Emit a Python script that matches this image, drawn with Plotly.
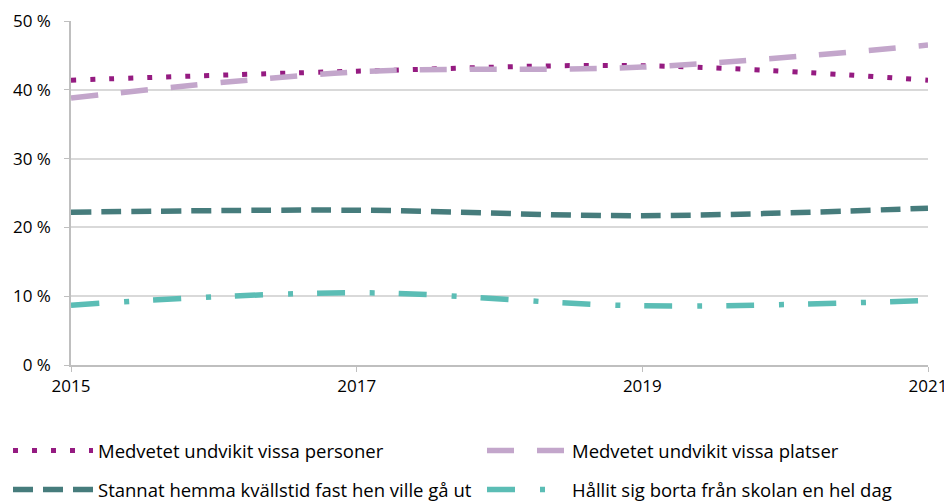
import plotly.graph_objects as go

years = [2015, 2017, 2019, 2021]
personer = [41.4, 42.7, 43.5, 41.4]
platser = [38.8, 42.6, 43.3, 46.5]
stannat = [22.2, 22.5, 21.7, 22.8]
skolan = [8.7, 10.5, 8.6, 9.4]

y_ticks = [0, 10, 20, 30, 40, 50]
y_labels = ["0 %", "10 %", "20 %", "30 %", "40 %", "50 %"]
x_ticks = [2015, 2017, 2019, 2021]

names = [
    "Medvetet undvikit vissa personer",
    "Medvetet undvikit vissa platser",
    "Stannat hemma kvällstid fast hen ville gå ut",
    "Hållit sig borta från skolan en hel dag",
]
colors = ["#951B81", "#C3A6CB", "#467C7C", "#5BBDB5"]
styles = [
    dict(width=5, dash="5px,14px"),
    dict(width=5.5, dash="27px,23px"),
    dict(width=5.5, dash="20px,10px"),
    dict(width=5.5, dash="28px,25px,5px,24px"),
]
series = [personer, platser, stannat, skolan]
legend_ids = ["legend", "legend2", "legend3", "legend4"]

W, H = 944, 494
# legend positions (figure px): left x, center y
leg_pos = [(0, 443), (474, 443), (0, 482), (474, 482)]

fig = go.Figure()
for name, vals, col, st, lg in zip(names, series, colors, styles, legend_ids):
    fig.add_trace(go.Scatter(
        x=years, y=vals, name=name, mode="lines",
        line=dict(color=col, shape="spline", smoothing=1.0, **st),
        legend=lg,
    ))

fam = "Open Sans, Lato, sans-serif"
font = dict(family=fam, size=18.5, color="#000")

layout_legends = {}
for lg, (px, py) in zip(legend_ids, leg_pos):
    layout_legends[lg] = dict(
        orientation="h", xref="container", yref="container",
        xanchor="left", yanchor="middle",
        x=px / W, y=1 - py / H,
        itemwidth=80, font=font, bgcolor="rgba(0,0,0,0)",
    )

fig.update_layout(
    width=W, height=H,
    margin=dict(l=63, r=24, t=13, b=137, autoexpand=False),
    plot_bgcolor="white", paper_bgcolor="white",
    font=font,
    showlegend=True,
    **layout_legends,
    xaxis=dict(
        range=[2015, 2021], tickvals=x_ticks, ticktext=[str(v) for v in x_ticks],
        showgrid=False, showline=True, linecolor="#BFBFBF", linewidth=1.5,
        ticks="outside", ticklen=5, tickcolor="#BFBFBF",
        tickfont=dict(family=fam, size=17, color="#000"),
        zeroline=False,
    ),
    yaxis=dict(
        range=[0, 50], tickvals=y_ticks, ticktext=y_labels,
        showgrid=True, gridcolor="#D9D9D9", gridwidth=1.5,
        showline=True, linecolor="#BFBFBF", linewidth=1.5,
        ticks="outside", ticklen=5, tickcolor="#BFBFBF",
        ticklabelstandoff=10,
        tickfont=dict(family=fam, size=17, color="#000"),
        zeroline=False,
    ),
)

fig.write_html("out.html")
